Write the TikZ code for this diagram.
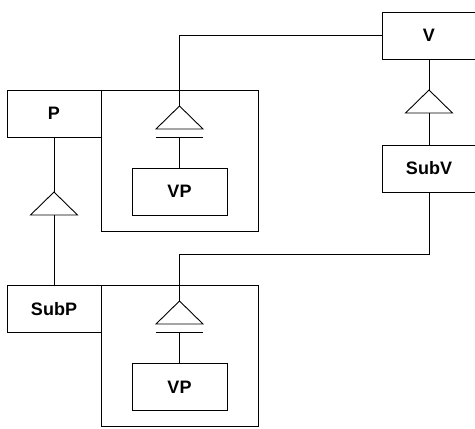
\documentclass[tikz,border=0pt]{standalone}
\usepackage{fontspec}
\setmainfont{Liberation Sans}

\tikzset{
    gen/.pic={%
        \coordinate (-top) at (0,0);
        \coordinate (-base) at (0,23);
        \draw (0,0) -- (-23.5,23) -- (23.5,23) -- cycle;
    },
    genbar/.pic={%
        \coordinate (-top) at (0,0);
        \coordinate (-base) at (0,31);
        \draw (0,0) -- (-23.5,23) -- (23.5,23) -- cycle;
        \draw (-23.5,31) -- (23.5,31);
    },
}

\begin{document}
\begin{tikzpicture}[x=1pt, y=-1pt,
    line width=0.9pt,
    box/.style={draw, minimum width=94pt, minimum height=47pt, inner sep=0pt,
        font=\fontsize{18}{21}\selectfont\bfseries},
    frame/.style={draw, minimum width=157pt, minimum height=141pt, inner sep=0pt},
]
    \useasboundingbox (0,0) rectangle (475,429);

    % Frames around the VP parts
    \node[frame] (frame1) at (179.5,160.5) {};
    \node[frame] (frame2) at (179.5,356) {};

    % Classes
    \node[box] (P)    at (54,113.5)   {P};
    \node[box] (SubP) at (54,309)     {SubP};
    \node[box] (V)    at (429,35.5)   {V};
    \node[box] (SubV) at (429,168.5)  {SubV};
    \node[box, minimum width=95pt] (VP1) at (179.5,191.5) {VP};
    \node[box, minimum width=95pt] (VP2) at (179.5,387)   {VP};

    % Generalisation triangles
    \pic (gP) at (54,192)    {gen};
    \pic (gV) at (429,90)    {gen};
    \pic (g1) at (179.5,106) {genbar};
    \pic (g2) at (179.5,301) {genbar};

    % Connectors
    \draw (P.south) -- (gP-top);
    \draw (gP-base) -- (SubP.north);
    \draw (V.south) -- (gV-top);
    \draw (gV-base) -- (SubV.north);
    \draw (V.west) -| (g1-top);
    \draw (g1-base) -- (VP1.north);
    \coordinate (knee) at (429,254);
    \draw (SubV.south) -- (knee) -| (g2-top);
    \draw (g2-base) -- (VP2.north);
\end{tikzpicture}
\end{document}
